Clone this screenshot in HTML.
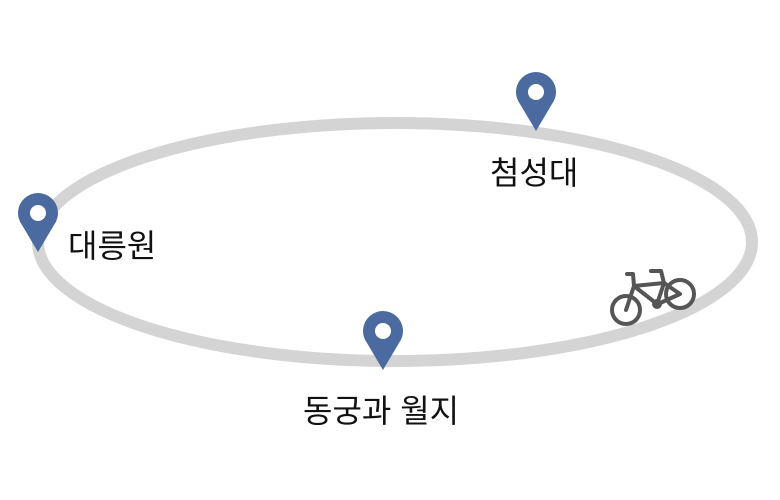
<!DOCTYPE html>
<html><head><meta charset="utf-8"><style>
body{margin:0;background:#fff;width:780px;height:500px;overflow:hidden}
.t{position:absolute;font-family:"Liberation Sans","Noto Sans CJK KR",sans-serif;font-size:32px;color:#111;line-height:1}
</style></head><body>
<svg width="780" height="500" style="position:absolute;left:0;top:0">
<defs><g id="pin"><path d="M20 58 L4 31 A20 20 0 1 1 36 31 Z" fill="#4a6aa0"/><circle cx="20" cy="19" r="8" fill="#fff"/></g></defs>
<ellipse cx="395" cy="242" rx="357" ry="119" fill="none" stroke="#d4d4d4" stroke-width="12"/>
<use href="#pin" x="516" y="73"/>
<use href="#pin" x="18" y="194"/>
<use href="#pin" x="363" y="312"/>
<g fill="none" stroke="#555" stroke-width="4" stroke-linecap="round" stroke-linejoin="round">
<circle cx="626" cy="310" r="14"/>
<circle cx="680" cy="294" r="14"/>
<path d="M626 310 L634 286 L657 304 L664 283 L680 294 L658 304"/>
<path d="M634 286 L664 283"/>
<path d="M627 274 L633 274 L634 286"/>
<path d="M655 271 L661 271 L664 283 M651 271 L660 271"/>
<circle cx="657" cy="304" r="3"/>
</g>
</svg>
<div class="t" style="left:490px;top:157px">첨성대</div>
<div class="t" style="left:68px;top:230px">대릉원</div>
<div class="t" style="left:303px;top:395px">동궁과 월지</div>
</body></html>
